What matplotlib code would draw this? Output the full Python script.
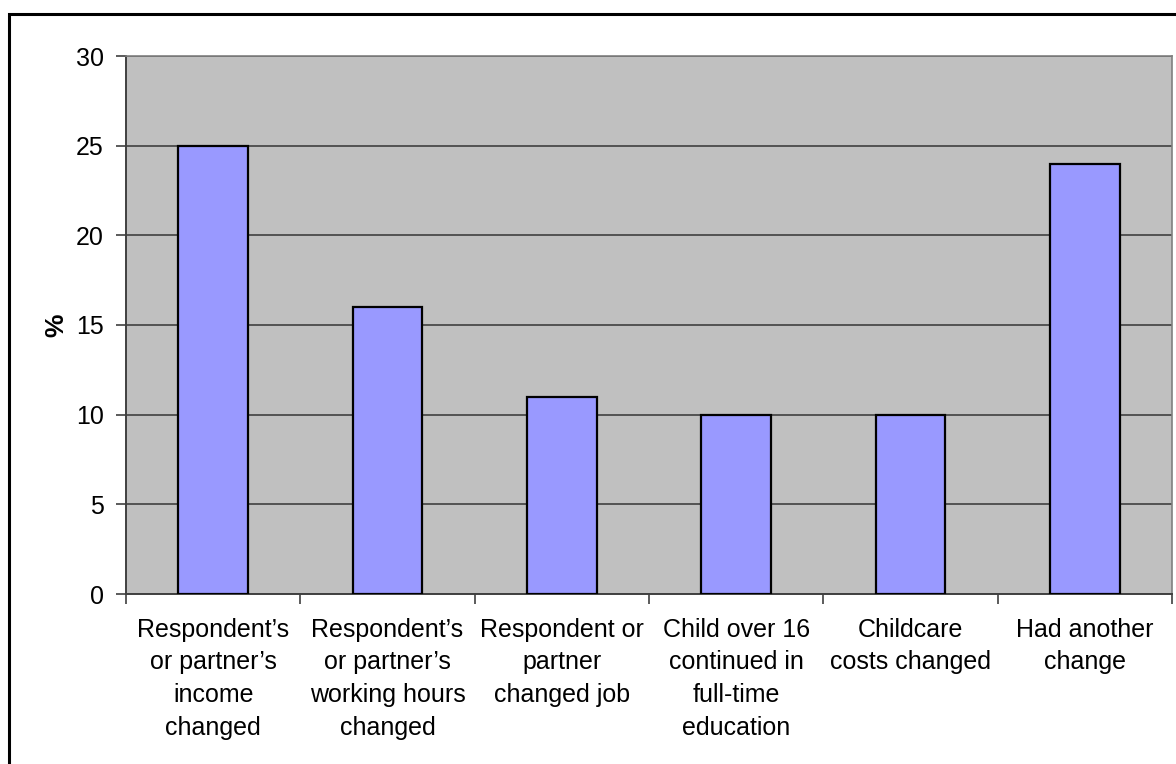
import matplotlib
matplotlib.use("Agg")
import matplotlib.pyplot as plt
from matplotlib.patches import Rectangle

categories = [
    "Respondent\u2019s\nor partner\u2019s\nincome\nchanged",
    "Respondent\u2019s\nor partner\u2019s\nworking hours\nchanged",
    "Respondent or\npartner\nchanged job",
    "Child over 16\ncontinued in\nfull-time\neducation",
    "Childcare\ncosts changed",
    "Had another\nchange",
]
values = [25, 16, 11, 10, 10, 24]
yticks = [0, 5, 10, 15, 20, 25, 30]

plt.rcParams["font.family"] = ["Liberation Sans", "DejaVu Sans"]

W, H = 1176, 764
fig = plt.figure(figsize=(W / 100, H / 100), dpi=100)
fig.patch.set_facecolor("white")

# outer chart frame (left and top edges visible)
fig.patches.append(Rectangle((9 / W, -0.1), 1.2, (H - 14) / H + 0.1,
                             transform=fig.transFigure, fill=False,
                             edgecolor="black", linewidth=2.2, zorder=0))

ax = fig.add_axes([126 / W, (H - 594) / H, 1046 / W, 538 / H])
ax.set_facecolor("#C0C0C0")

x = list(range(len(values)))
ax.bar(x, values, width=0.40, color="#9999FF", edgecolor="black",
       linewidth=1.6, zorder=3)

ax.set_xlim(-0.5, len(values) - 0.5)
ax.set_ylim(0, 30)
ax.set_yticks(yticks)
ax.set_yticklabels([str(v) for v in yticks], fontsize=18)
ax.yaxis.grid(True, color="#404040", linewidth=1.2, zorder=1)
ax.set_axisbelow(True)

# category boundary ticks below the axis
ax.set_xticks([i - 0.5 for i in range(len(values) + 1)])
ax.set_xticklabels([])
ax.set_xticks(x, minor=True)
ax.set_xticklabels(categories, minor=True, fontsize=18, linespacing=1.46,
                   va="top", ha="center")
ax.tick_params(axis="x", which="major", direction="out", length=7,
               width=1.2, color="#404040")
ax.tick_params(axis="x", which="minor", length=0, pad=17)
ax.tick_params(axis="y", direction="out", length=7, width=1.2,
               color="#404040", pad=9)

for side in ("top", "right"):
    ax.spines[side].set_color("#808080")
    ax.spines[side].set_linewidth(1.2)
for side in ("left", "bottom"):
    ax.spines[side].set_color("#404040")
    ax.spines[side].set_linewidth(1.4)

ax.set_ylabel("%", fontsize=19, fontweight="bold", labelpad=5)

fig.savefig("out.png", dpi=100)
